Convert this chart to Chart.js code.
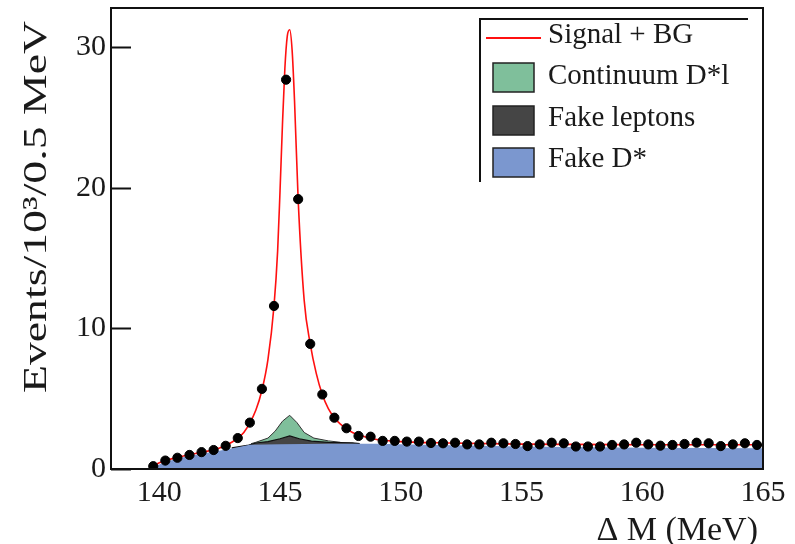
<!DOCTYPE html>
<html>
<head>
<meta charset="utf-8">
<script src="https://cdn.jsdelivr.net/npm/chart.js@4.4.0/dist/chart.umd.min.js"></script>
<style>
  html, body { margin: 0; padding: 0; background: #fff; }
  #wrap { width: 795px; height: 544px; }
</style>
</head>
<body>
<div id="wrap"><canvas id="chart" width="795" height="544"></canvas></div>
<script>
// data points (bin centres, MeV) and counts in units of 10^3 / 0.5 MeV
const binCenters = [139.75, 140.25, 140.75, 141.25, 141.75, 142.25, 142.75, 143.25, 143.75, 144.25,
  144.75, 145.25, 145.75, 146.25, 146.75, 147.25, 147.75, 148.25, 148.75, 149.25,
  149.75, 150.25, 150.75, 151.25, 151.75, 152.25, 152.75, 153.25, 153.75, 154.25,
  154.75, 155.25, 155.75, 156.25, 156.75, 157.25, 157.75, 158.25, 158.75, 159.25,
  159.75, 160.25, 160.75, 161.25, 161.75, 162.25, 162.75, 163.25, 163.75, 164.25, 164.75];
const dataCounts = [0.2, 0.6, 0.8, 1.0, 1.2, 1.35, 1.65, 2.2, 3.3, 5.7,
  11.6, 27.7, 19.2, 8.9, 5.3, 3.65, 2.9, 2.35, 2.3, 2.0,
  2.0, 1.95, 1.95, 1.85, 1.83, 1.87, 1.75, 1.75, 1.87, 1.83,
  1.78, 1.63, 1.75, 1.87, 1.83, 1.6, 1.6, 1.6, 1.71, 1.75,
  1.87, 1.75, 1.66, 1.71, 1.78, 1.87, 1.83, 1.63, 1.75, 1.83, 1.71];

// Signal + BG fit curve
const fitX = [138, 139.57, 139.75, 140, 140.5, 141, 141.5, 142, 142.5, 143, 143.5, 144, 144.25, 144.5,
  144.75, 144.9, 145.0, 145.1, 145.2, 145.3, 145.4, 145.5, 145.6, 145.75, 146.0, 146.25, 146.5,
  146.75, 147.0, 147.25, 147.5, 148, 148.5, 149, 150, 152, 155, 160, 165];
const fitY = [0, 0, 0.2, 0.45, 0.72, 0.92, 1.1, 1.27, 1.5, 1.9, 2.6, 4.2, 5.6, 7.8,
  11.6, 15.5, 19.8, 24.5, 28.5, 30.8, 31.25, 29.8, 26.2, 19.2, 12, 8.9, 6.8,
  5.3, 4.3, 3.65, 3.2, 2.6, 2.3, 2.1, 1.95, 1.85, 1.77, 1.73, 1.72];

// stacked background components (top edge of each stack)
const fakeDstarX = [139.57, 139.75, 140.25, 140.75, 141.25, 141.75, 142.25, 142.75, 143.25, 143.75,
  145, 147, 149, 151, 155, 160, 165];
const fakeDstarY = [0, 0.15, 0.5, 0.75, 0.92, 1.08, 1.22, 1.38, 1.55, 1.72,
  1.76, 1.8, 1.8, 1.72, 1.6, 1.52, 1.48];
const fakeLepX = [143.0, 143.7, 144.0, 144.5, 145.0, 145.4, 145.8, 146.3, 147.0, 148.0, 148.3];
const fakeLepY = [1.5, 1.7, 1.85, 1.95, 2.15, 2.35, 2.15, 1.98, 1.9, 1.86, 1.8];
const contX = [143.8, 144.0, 144.5, 144.8, 145.1, 145.4, 145.7, 146.0, 146.4, 147.0, 147.5];
const contY = [1.8, 1.9, 2.2, 2.7, 3.4, 3.82, 3.3, 2.6, 2.2, 2.0, 1.9];

const xTicks = [140, 145, 150, 155, 160, 165];
const yTicks = [0, 10, 20, 30];

const legendLabels = ['Signal + BG', 'Continuum D*l', 'Fake leptons', 'Fake D*'];
const colors = { fit: '#ff1010', cont: '#7fbf9b', lep: '#454545', fakeD: '#7b97cf' };

const SERIF = '"Liberation Serif", "DejaVu Serif", serif';
const pts = (xs, ys) => xs.map((x, i) => ({ x, y: ys[i] }));

const decorPlugin = {
  id: 'decor',
  afterDatasetsDraw(chart) {
    const { ctx, chartArea: a, scales } = chart;
    ctx.save();
    // inner y ticks
    ctx.strokeStyle = '#111';
    ctx.lineWidth = 2;
    yTicks.forEach(v => {
      const py = Math.round(scales.y.getPixelForValue(v)) + 0.5;
      ctx.beginPath(); ctx.moveTo(a.left, py); ctx.lineTo(a.left + 20, py); ctx.stroke();
    });
    // frame
    ctx.strokeRect(a.left, a.top, a.right - a.left, a.bottom - a.top);

    // legend
    ctx.lineWidth = 2;
    ctx.beginPath();
    ctx.moveTo(480, 182); ctx.lineTo(480, 19); ctx.lineTo(748, 19);
    ctx.stroke();
    ctx.strokeStyle = colors.fit;
    ctx.lineWidth = 2;
    ctx.beginPath(); ctx.moveTo(486, 38); ctx.lineTo(541, 38); ctx.stroke();
    const boxes = [[colors.cont, 63], [colors.lep, 106], [colors.fakeD, 148]];
    boxes.forEach(([c, y]) => {
      ctx.fillStyle = c;
      ctx.fillRect(493, y, 41, 29);
      ctx.strokeStyle = '#222';
      ctx.lineWidth = 1.5;
      ctx.strokeRect(493, y, 41, 29);
    });
    ctx.fillStyle = '#1a1a1a';
    ctx.font = '29px ' + SERIF;
    ctx.textAlign = 'left';
    ctx.textBaseline = 'alphabetic';
    const baselines = [43, 84, 126, 167];
    legendLabels.forEach((t, i) => ctx.fillText(t, 548, baselines[i]));

    // axis titles
    ctx.font = '34px ' + SERIF;
    ctx.textAlign = 'right';
    ctx.fillText('Δ M (MeV)', 758, 540);

    ctx.translate(46, 207);
    ctx.rotate(-Math.PI / 2);
    ctx.font = '33px ' + SERIF;
    const title = 'Events/10³/0.5 MeV';
    const w = ctx.measureText(title).width;
    ctx.scale(372 / w, 1);
    ctx.textAlign = 'center';
    ctx.fillText(title, 0, 0);
    ctx.restore();
  }
};

new Chart(document.getElementById('chart'), {
  type: 'line',
  data: {
    datasets: [
      {
        label: 'Data', type: 'scatter', data: pts(binCenters, dataCounts),
        pointRadius: 4.6, pointBackgroundColor: '#000', pointBorderColor: '#000',
        showLine: false
      },
      {
        label: legendLabels[0], data: pts(fitX, fitY), borderColor: colors.fit, borderWidth: 1.6,
        pointRadius: 0, fill: false, cubicInterpolationMode: 'monotone'
      },
      {
        label: legendLabels[3], data: pts(fakeDstarX, fakeDstarY), borderColor: colors.fakeD,
        borderWidth: 0, backgroundColor: colors.fakeD, pointRadius: 0, fill: 'origin'
      },
      {
        label: legendLabels[2], data: pts(fakeLepX, fakeLepY), borderColor: '#111',
        borderWidth: 1.2, backgroundColor: colors.lep, pointRadius: 0, fill: 'origin'
      },
      {
        label: legendLabels[1], data: pts(contX, contY), borderColor: '#333',
        borderWidth: 1, backgroundColor: colors.cont, pointRadius: 0, fill: 'origin'
      }
    ]
  },
  options: {
    responsive: false,
    animation: false,
    layout: { padding: { top: 8, right: 32, left: 0, bottom: 0 } },
    plugins: { legend: { display: false }, tooltip: { enabled: false } },
    scales: {
      x: {
        type: 'linear', min: 138, max: 165,
        afterBuildTicks: s => { s.ticks = xTicks.map(v => ({ value: v })); },
        afterFit: s => { s.height = 75; s.paddingLeft = 0; s.paddingRight = 0; },
        grid: { display: false, drawTicks: false },
        border: { display: false },
        ticks: { color: '#1a1a1a', font: { family: SERIF, size: 30 }, padding: 6, maxRotation: 0 }
      },
      y: {
        min: 0, max: 32.8,
        afterBuildTicks: s => { s.ticks = yTicks.map(v => ({ value: v })); },
        afterFit: s => { s.width = 111; s.paddingTop = 0; s.paddingBottom = 0; },
        grid: { display: false, drawTicks: false },
        border: { display: false },
        ticks: { color: '#1a1a1a', font: { family: SERIF, size: 30 }, padding: 5 }
      }
    }
  },
  plugins: [decorPlugin]
});
</script>
</body>
</html>
